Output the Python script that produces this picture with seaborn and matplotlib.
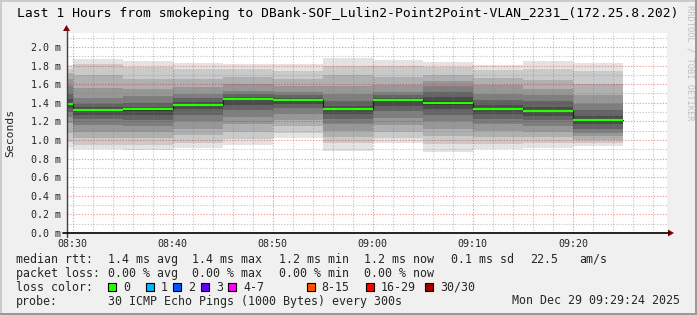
import numpy as np
import pandas as pd
import matplotlib
matplotlib.use("Agg")
import matplotlib.pyplot as plt
import seaborn as sns
from matplotlib.patches import Rectangle, Polygon
from matplotlib.lines import Line2D

# ---------------- data ----------------
title = "Last 1 Hours from smokeping to DBank-SOF_Lulin2-Point2Point-VLAN_2231_(172.25.8.202)"
bar_start = ["08:25", "08:30", "08:35", "08:40", "08:45", "08:50",
             "08:55", "09:00", "09:05", "09:10", "09:15", "09:20"]
step_min = 5
median_ms = [1.39, 1.32, 1.33, 1.38, 1.44, 1.43, 1.33, 1.435, 1.40, 1.33, 1.31, 1.215]

# sorted ping values (ms) at given ranks (1 = fastest, 30 = slowest), per bar
ping_r01 = [0.91, 0.90, 0.89, 0.91, 0.95, 1.02, 0.885, 0.965, 0.875, 0.90, 0.91, 0.935]
ping_r03 = [0.98, 0.95, 0.95, 0.97, 1.01, 1.08, 0.97, 1.02, 0.96, 0.96, 0.97, 0.97]
ping_r05 = [1.08, 1.02, 1.02, 1.05, 1.09, 1.15, 1.03, 1.09, 1.04, 1.03, 1.03, 1.00]
ping_r07 = [1.18, 1.09, 1.09, 1.12, 1.17, 1.21, 1.10, 1.16, 1.12, 1.10, 1.09, 1.04]
ping_r09 = [1.25, 1.16, 1.15, 1.20, 1.25, 1.28, 1.17, 1.24, 1.20, 1.17, 1.15, 1.08]
ping_r11 = [1.30, 1.23, 1.21, 1.27, 1.32, 1.34, 1.23, 1.31, 1.27, 1.23, 1.21, 1.12]
ping_r13 = [1.34, 1.27, 1.27, 1.33, 1.38, 1.39, 1.28, 1.37, 1.33, 1.28, 1.26, 1.17]
ping_r15 = [1.38, 1.31, 1.31, 1.37, 1.43, 1.42, 1.32, 1.42, 1.38, 1.32, 1.30, 1.21]
ping_r16 = [1.40, 1.33, 1.335, 1.39, 1.45, 1.44, 1.34, 1.44, 1.42, 1.345, 1.325, 1.23]
ping_r18 = [1.44, 1.35, 1.36, 1.41, 1.46, 1.45, 1.37, 1.455, 1.46, 1.38, 1.36, 1.26]
ping_r20 = [1.50, 1.39, 1.40, 1.45, 1.49, 1.48, 1.42, 1.48, 1.52, 1.43, 1.42, 1.32]
ping_r22 = [1.58, 1.45, 1.47, 1.50, 1.53, 1.52, 1.49, 1.52, 1.58, 1.50, 1.48, 1.39]
ping_r24 = [1.66, 1.56, 1.55, 1.57, 1.60, 1.58, 1.58, 1.59, 1.63, 1.59, 1.55, 1.48]
ping_r26 = [1.72, 1.70, 1.66, 1.66, 1.68, 1.66, 1.70, 1.68, 1.70, 1.67, 1.64, 1.60]
ping_r28 = [1.76, 1.82, 1.78, 1.76, 1.76, 1.74, 1.80, 1.80, 1.78, 1.75, 1.76, 1.74]
ping_r30 = [1.81, 1.87, 1.85, 1.83, 1.82, 1.82, 1.88, 1.86, 1.835, 1.81, 1.85, 1.83]

x_tick_labels = ["08:30", "08:40", "08:50", "09:00", "09:10", "09:20"]
y_ticks = [0.0, 0.2, 0.4, 0.6, 0.8, 1.0, 1.2, 1.4, 1.6, 1.8, 2.0]
window_start = "08:29:24"
window_end = "09:29:24"

loss_labels = ["0", "1", "2", "3", "4-7", "8-15", "16-29", "30/30"]
loss_colors = ["#26ff00", "#00b8ff", "#0059ff", "#5e00ff", "#ff00ff", "#ff5500", "#ff0000", "#a00000"]

rtt_stats = ["1.4 ms avg", "1.4 ms max", "1.2 ms min", "1.2 ms now", "0.1 ms sd", "22.5", "am/s"]
loss_stats = ["0.00 % avg", "0.00 % max", "0.00 % min", "0.00 % now"]
probe_text = "30 ICMP Echo Pings (1000 Bytes) every 300s"
stamp_text = "Mon Dec 29 09:29:24 2025"


def to_min(s):
    p = [int(v) for v in s.split(":")]
    while len(p) < 3:
        p.append(0)
    return (p[0] - 8) * 60 + p[1] + p[2] / 60.0


# ---------------- figure ----------------
W, H = 697, 315
sns.set_style("white")
plt.rcParams["font.family"] = ["DejaVu Sans Mono", "DejaVu Sans"]
fig = plt.figure(figsize=(W / 100, H / 100), dpi=100)
fig.patch.set_facecolor("#f0f0f0")


def fx(x):
    return x / W


def fy(y):
    return 1 - y / H


L, R, T, B = 66.5, 667, 33, 233
ax = fig.add_axes([fx(L), fy(B), fx(R) - fx(L), fy(T) - fy(B)])
ax.set_facecolor("white")

x0, x1 = to_min(window_start), to_min(window_end)
ymax = (B - T) / 93.0
ax.set_xlim(x0, x1)
ax.set_ylim(0, ymax)

starts = np.array([to_min(s) for s in bar_start])

levels = [
    (1, ping_r01, ping_r30),
    (3, ping_r03, ping_r28),
    (5, ping_r05, ping_r26),
    (7, ping_r07, ping_r24),
    (9, ping_r09, ping_r22),
    (11, ping_r11, ping_r20),
    (13, ping_r13, ping_r18),
    (15, ping_r15, ping_r16),
]
for rank, lo, hi in levels:
    g = int(190 / 15 * (15 - rank)) + 50
    col = "#%02x%02x%02x" % (g, g, g)
    lo = np.array(lo)
    hi = np.array(hi)
    ax.bar(starts, hi - lo, bottom=lo, width=step_min, align="edge",
           color=col, linewidth=0, zorder=1)

# median step line
med_df = pd.DataFrame({"t": list(starts) + [starts[-1] + step_min],
                       "median": median_ms + [median_ms[-1]]})
sns.lineplot(data=med_df, x="t", y="median", drawstyle="steps-post",
             color="#202020", linewidth=0.9, ax=ax, zorder=3)
ax.hlines(median_ms, starts, starts + step_min, colors="#26ff00",
          linewidth=1.6, zorder=4)

# grid
xt = [to_min(s) for s in x_tick_labels]
ax.set_xticks(xt)
ax.set_xticklabels(x_tick_labels)
ax.set_xticks(np.arange(30, 90, 2), minor=True)
ax.set_yticks(y_ticks)
ax.set_yticklabels(["%.1f m" % v for v in y_ticks])
ax.set_yticks(np.arange(0.1, 2.15, 0.2), minor=True)
ax.grid(which="minor", color="#808080", alpha=0.42, linestyle=(0, (1.2, 1.4)), linewidth=0.8, zorder=5)
ax.grid(which="major", color="#e00000", alpha=0.38, linestyle=(0, (1.2, 1.4)), linewidth=0.8, zorder=5)
ax.set_axisbelow(False)
for s in ax.spines.values():
    s.set_visible(False)
ax.tick_params(axis="both", which="major", length=2.5, width=0.8, color="#444444",
               labelsize=7.2, pad=1.5, direction="out")
ax.tick_params(axis="both", which="minor", length=1.5, width=0.6, color="#888888", direction="out")
ax.set_xlabel("")
ax.set_ylabel("")

# axes lines with arrows
fig.add_artist(Line2D([fx(L), fx(L)], [fy(B + 4), fy(T - 3)], color="#404040", lw=1))
fig.add_artist(Polygon([[fx(L - 3.5), fy(T - 2)], [fx(L + 3.5), fy(T - 2)], [fx(L), fy(T - 8)]],
                       closed=True, color="#7f0000", lw=0))
fig.add_artist(Line2D([fx(L - 4), fx(R + 2)], [fy(B), fy(B)], color="black", lw=1.2))
fig.add_artist(Polygon([[fx(R + 1), fy(B - 3.5)], [fx(R + 1), fy(B + 3.5)], [fx(R + 7), fy(B)]],
                       closed=True, color="#7f0000", lw=0))

# title & labels
fig.text(fx(348), fy(14), title, ha="center", va="center", fontsize=9.4, color="black")
fig.text(fx(10), fy(133), "Seconds", ha="center", va="center", rotation=90, fontsize=8.2)
fig.text(fx(690), fy(5), "RRDTOOL / TOBI OETIKER", ha="center", va="top", rotation=-90,
         fontsize=6.3, color="#c0c0c0")

# legend
fs = 8.35
row_y = [259.3, 273.3, 287.3, 301]
cols = [107.6, 192, 279, 364.5, 451, 530, 579]
fig.text(fx(16), fy(row_y[0]), "median rtt:", fontsize=fs, va="center")
for txt, cx in zip(rtt_stats, cols):
    fig.text(fx(cx), fy(row_y[0]), txt, fontsize=fs, va="center")
fig.text(fx(16), fy(row_y[1]), "packet loss:", fontsize=fs, va="center")
for txt, cx in zip(loss_stats, cols):
    fig.text(fx(cx), fy(row_y[1]), txt, fontsize=fs, va="center")
fig.text(fx(16), fy(row_y[2]), "loss color:", fontsize=fs, va="center")
box_x = [108.3, 145.7, 173.3, 201, 228.3, 306.7, 366, 425]
for lab, col, bx in zip(loss_labels, loss_colors, box_x):
    fig.add_artist(Rectangle((fx(bx), fy(row_y[2] + 4)), fx(8) - fx(0), fy(0) - fy(8),
                             facecolor=col, edgecolor="black", lw=0.8))
    fig.text(fx(bx + 15), fy(row_y[2]), lab, fontsize=fs, va="center")
fig.text(fx(16), fy(row_y[3]), "probe:", fontsize=fs, va="center")
fig.text(fx(107.6), fy(row_y[3]), probe_text, fontsize=fs, va="center")
fig.text(fx(680), fy(row_y[3]), stamp_text, fontsize=fs, va="center", ha="right")

# 3D frame
fig.add_artist(Rectangle((0, 0), fx(2), 1, facecolor="#cbcbcb", lw=0))
fig.add_artist(Rectangle((0, fy(2)), 1, fy(0) - fy(2), facecolor="#cbcbcb", lw=0))
fig.add_artist(Rectangle((fx(W - 2), 0), fx(2), 1, facecolor="#999999", lw=0))
fig.add_artist(Rectangle((0, 0), 1, fy(H - 2), facecolor="#999999", lw=0))

fig.savefig("out.png", dpi=100, facecolor=fig.get_facecolor())
